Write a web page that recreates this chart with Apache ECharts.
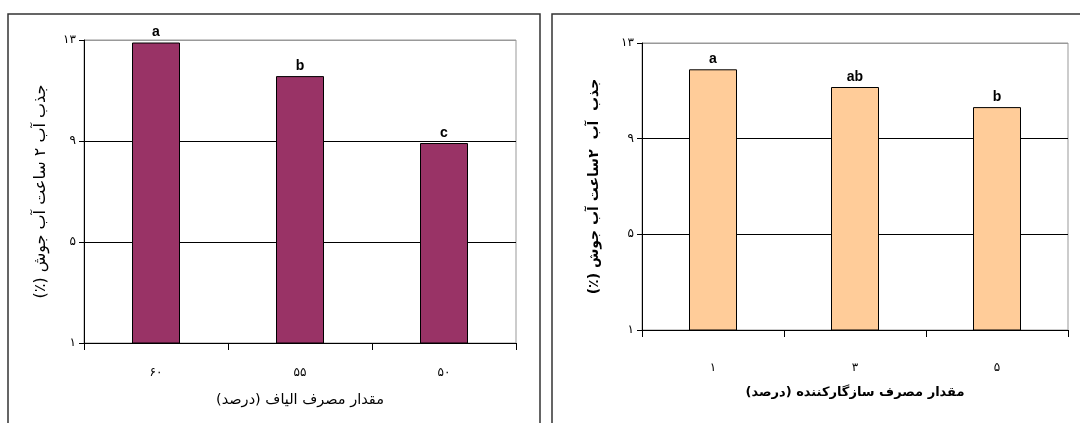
<!DOCTYPE html>
<html>
<head>
<meta charset="utf-8">
<script src="https://cdn.jsdelivr.net/npm/echarts@6/dist/echarts.min.js"></script>
<style>
html,body{margin:0;padding:0;background:#fff;}
#c{width:1080px;height:423px;}
</style>
</head>
<body>
<div id="c" dir="rtl"></div>
<script>
// Left chart: fibre content
const leftCategories = ['۶۰', '۵۵', '۵۰'];
const leftValues = [12.9, 11.57, 8.92];
const leftLetters = ['a', 'b', 'c'];
// Right chart: compatibilizer content
const rightCategories = ['۱', '۳', '۵'];
const rightValues = [11.9, 11.16, 10.32];
const rightLetters = ['a', 'ab', 'b'];
// Y tick labels (Persian digits)
const yTickValues = [1, 5, 9, 13];
const yTickLabels = ['۱', '۵', '۹', '۱۳'];

const leftYName = 'جذب آب ۲ ساعت آب جوش (٪)';
const rightYName = 'جذب  آب  ۲ساعت آب جوش (٪)';
const leftXName = 'مقدار مصرف الیاف (درصد)';
const rightXName = 'مقدار مصرف سازگارکننده (درصد)';

const faFont = '"DejaVu Sans", "Noto Sans", sans-serif';
function yLabel(v) {
  const i = yTickValues.indexOf(v);
  return i >= 0 ? yTickLabels[i] : '';
}

function yAxis(gridIndex, name, gap, bold, size) {
  return {
    type: 'value', gridIndex, min: 1, max: 13, interval: 4,
    name, nameLocation: 'middle', nameRotate: 90, nameGap: gap,
    nameTextStyle: { fontFamily: faFont, fontSize: size, color: '#000', fontWeight: bold ? 'bold' : 'normal' },
    axisLine: { show: true, lineStyle: { color: '#000', width: 1 } },
    axisTick: { show: true, length: 5, lineStyle: { color: '#000' } },
    axisLabel: { formatter: yLabel, fontFamily: faFont, fontSize: 12, color: '#000', margin: 8 },
    splitLine: { show: true, lineStyle: { color: ['#000', '#000', '#000', '#999'], width: 1 } }
  };
}
function xAxis(gridIndex, cats, name, labelMargin, nameGap, bold, size) {
  return {
    type: 'category', gridIndex, data: cats,
    name, nameLocation: 'middle', nameGap,
    nameTextStyle: { fontFamily: faFont, fontSize: size, color: '#000', fontWeight: bold ? 'bold' : 'normal' },
    axisLine: { show: true, lineStyle: { color: '#000', width: 1 } },
    axisTick: { show: true, length: 7, lineStyle: { color: '#000' } },
    axisLabel: { fontFamily: faFont, fontSize: 12, color: '#000', margin: labelMargin }
  };
}
function barSeries(idx, values, letters, color) {
  return {
    type: 'bar', xAxisIndex: idx, yAxisIndex: idx, data: values, barWidth: 48,
    itemStyle: { color, borderColor: '#000', borderWidth: 1 },
    label: {
      show: true, position: 'top', distance: 3,
      formatter: p => letters[p.dataIndex],
      fontFamily: '"Liberation Sans", Arial, sans-serif', fontWeight: 'bold', fontSize: 14, color: '#000'
    },
    silent: true
  };
}

const chart = echarts.init(document.getElementById('c'), null, { renderer: 'canvas' });
chart.setOption({
  animation: false,
  backgroundColor: '#fff',
  grid: [
    { left: 84, top: 40, width: 432, height: 303, show: true, borderColor: '#999', borderWidth: 1, backgroundColor: 'transparent' },
    { left: 642, top: 43, width: 426, height: 287, show: true, borderColor: '#999', borderWidth: 1, backgroundColor: 'transparent' }
  ],
  xAxis: [
    xAxis(0, leftCategories, leftXName, 24, 50, false, 14.5),
    xAxis(1, rightCategories, rightXName, 32, 56, true, 13)
  ],
  yAxis: [
    yAxis(0, leftYName, 35, false, 16),
    yAxis(1, rightYName, 41, true, 14)
  ],
  series: [
    barSeries(0, leftValues, leftLetters, '#993366'),
    barSeries(1, rightValues, rightLetters, '#FFCC99')
  ],
  graphic: [
    { type: 'rect', shape: { x: 8, y: 14, width: 532, height: 430 }, style: { fill: 'none', stroke: '#333', lineWidth: 1.5 }, silent: true },
    { type: 'rect', shape: { x: 552, y: 14, width: 540, height: 430 }, style: { fill: 'none', stroke: '#333', lineWidth: 1.5 }, silent: true }
  ]
});
</script>
</body>
</html>
